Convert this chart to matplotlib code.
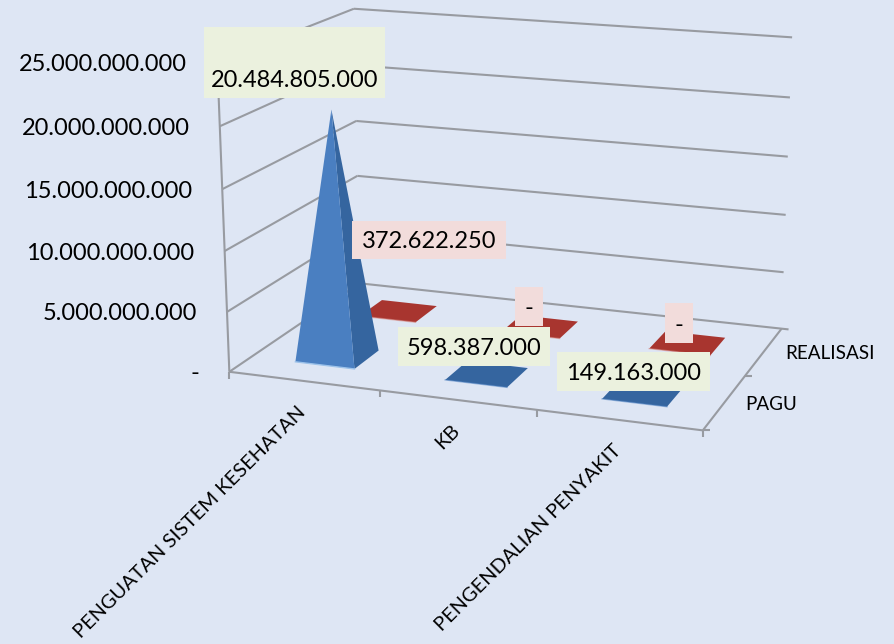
import numpy as np
import matplotlib
matplotlib.use('Agg')
import matplotlib.pyplot as plt
from matplotlib.patches import Polygon, Rectangle

# data
categories = ['PENGUATAN SISTEM KESEHATAN', 'KB', 'PENGENDALIAN PENYAKIT']
series_names = ['PAGU', 'REALISASI']
pagu = [20484805000, 598387000, 149163000]
realisasi = [372622250, 0, 0]
y_ticks = [0, 5000000000, 10000000000, 15000000000, 20000000000, 25000000000]
y_labels = ['-', '5.000.000.000', '10.000.000.000', '15.000.000.000', '20.000.000.000', '25.000.000.000']
pagu_labels = ['20.484.805.000', '598.387.000', '149.163.000']
realisasi_labels = ['372.622.250', '-', '-']

ZMAX = y_ticks[-1]
BG = '#dee6f4'
GRID = '#989ba1'
FONT = 'Lato'

# box corners in the picture: (cat, series, value) -> pixel, fitted as a camera
world = np.array([[0, 0, 0], [3, 0, 0], [3, 2, 0], [0, 2, 0],
                  [0, 0, 1], [3, 0, 1], [3, 2, 1], [0, 2, 1]], dtype=float)
pix = np.array([[228, 371], [702, 430], [782, 329], [361, 284],
                [218, 62], [713, 101], [791, 36], [353, 9]], dtype=float)


def fit_camera(w, p):
    rows = []
    for (x, y, z), (u, v) in zip(w, p):
        rows.append([x, y, z, 1, 0, 0, 0, 0, -u * x, -u * y, -u * z, -u])
        rows.append([0, 0, 0, 0, x, y, z, 1, -v * x, -v * y, -v * z, -v])
    _, _, vt = np.linalg.svd(np.array(rows))
    return vt[-1].reshape(3, 4)


CAM = fit_camera(world, pix)


def proj(cat, ser, val):
    q = CAM @ np.array([cat, ser, val / ZMAX, 1.0])
    return q[0] / q[2], q[1] / q[2]


fig = plt.figure(figsize=(8.94, 6.44), dpi=100, facecolor=BG)
ax = fig.add_axes([0, 0, 1, 1])
ax.set_xlim(0, 894)
ax.set_ylim(644, 0)
ax.axis('off')


def line(p1, p2, z=1):
    ax.plot([p1[0], p2[0]], [p1[1], p2[1]], color=GRID, lw=1.5, zorder=z, solid_capstyle='butt')


# walls and floor
for v in y_ticks:
    a, d, c = proj(0, 0, v), proj(0, 2, v), proj(3, 2, v)
    line(a, d)
    if v == 0:
        c = (c[0] + 7, c[1] + 0.7)
    line(d, c)
line(proj(0, 0, 0), proj(0, 0, ZMAX))
line(proj(0, 0, 0), proj(3, 0, 0))
line(proj(3, 0, 0), proj(3, 2, 0))

# ticks
for i in range(4):
    p = proj(i, 0, 0)
    line(p, (p[0], p[1] + 7))
p = proj(3, 0, 0)
line(p, (p[0] + 7, p[1]))
p = proj(3, 1, 0)
line(p, (p[0] + 7, p[1]))

# axis labels
for v, lab in zip(y_ticks, y_labels):
    p = proj(0, 0, v)
    ax.text(p[0] - 30, p[1] + 2, lab, ha='right', va='center', fontsize=17, family=FONT, color='black')
for i, lab in enumerate(categories):
    p = proj(i + 0.5, 0, 0)
    ax.text(p[0] - 7, p[1] + 22, lab, rotation=45, rotation_mode='anchor', ha='right', va='top',
            fontsize=14.4, family=FONT, color='black')
for i, lab in enumerate(series_names):
    p = proj(3, i + 0.5, 0)
    ax.text(p[0] + 21, p[1] + 2, lab, ha='left', va='center', fontsize=13.6, family=FONT, color='black')


# pyramids, the very low ones look like one flat colour
def pyramid(cat, ser, val, front, side, z):
    w, d = 0.2, 0.19
    cx, cy = cat + 0.5, ser + 0.5
    fl = proj(cx - w, cy - d, 0)
    fr = proj(cx + w, cy - d, 0)
    br = proj(cx + w, cy + d, 0)
    bl = proj(cx - w, cy + d, 0)
    top = proj(cx, cy, val)
    if val < 0.05 * ZMAX:
        ax.add_patch(Polygon([fl, fr, br, bl], fc=side, ec='none', zorder=z))
        ax.plot([fl[0], fr[0]], [fl[1], fr[1]], color=front, lw=1, alpha=0.5, zorder=z + 0.3)
        return
    ax.add_patch(Polygon([fr, br, top], fc=side, ec='none', zorder=z + 0.1))
    ax.add_patch(Polygon([fl, fr, top], fc=front, ec='none', zorder=z + 0.2))
    ax.plot([fl[0], fr[0]], [fl[1], fr[1]], color='#9cc2ea', lw=1, zorder=z + 0.3)


for i in range(3):
    pyramid(i, 1, realisasi[i], '#d98a82', '#a8352f', 2 + (2 - i) * 0.01)
for i in range(3):
    pyramid(i, 0, pagu[i], '#4a7fc1', '#35659f', 3 + (2 - i) * 0.01)

# value label boxes, (left, top, right, bottom) in pixels
pagu_boxes = [(204, 27, 385, 98), (398, 327, 550, 366), (557, 352, 710, 391)]
real_boxes = [(352, 221, 506, 259), (515, 287, 543, 326), (665, 303, 693, 343)]

for box, lab in zip(real_boxes, realisasi_labels):
    ax.add_patch(Rectangle((box[0], box[1]), box[2] - box[0], box[3] - box[1], fc='#f2dcdb', ec='none', zorder=5))
    ax.text((box[0] + box[2]) / 2, box[3] - 18, lab, ha='center', va='center', fontsize=17, family=FONT,
            color='black', zorder=6)
for box, lab in zip(pagu_boxes, pagu_labels):
    ax.add_patch(Rectangle((box[0], box[1]), box[2] - box[0], box[3] - box[1], fc='#ebf1de', ec='none', zorder=5))
    ax.text((box[0] + box[2]) / 2, box[3] - 18, lab, ha='center', va='center', fontsize=17, family=FONT,
            color='black', zorder=6)

fig.savefig('out.png', dpi=100, facecolor=BG)
